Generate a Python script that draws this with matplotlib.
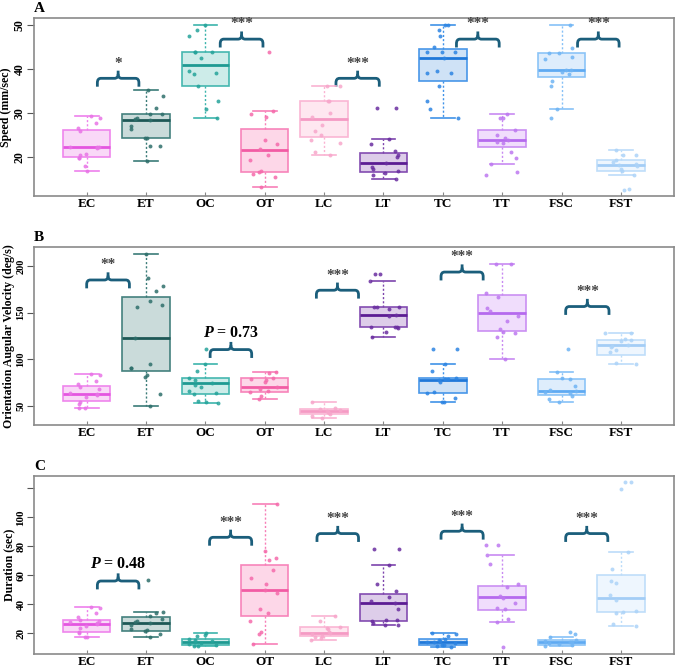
import matplotlib
matplotlib.use("Agg")
import matplotlib.pyplot as plt
from matplotlib.path import Path
from matplotlib.patches import PathPatch
import numpy as np

plt.rcParams["font.family"] = ["Liberation Serif", "DejaVu Serif"]
plt.rcParams["font.weight"] = "bold"
plt.rcParams["mathtext.fontset"] = "custom"
plt.rcParams["mathtext.bfit"] = "Liberation Serif:bold:italic"
plt.rcParams["mathtext.it"] = "Liberation Serif:italic"

groups = ["EC", "ET", "OC", "OT", "LC", "LT", "TC", "TT", "FSC", "FST"]

# ---- Panel A: speed (mm/sec) ----
speed_points = [
    [29.3, 28.9, 27.8, 26.6, 25.9, 22.3, 22.4, 22.2, 22.0, 20.8, 20.4, 19.8, 19.7, 18.1, 16.8],
    [35.3, 34.0, 31.2, 29.7, 29.7, 28.9, 28.7, 28.5, 27.0, 26.3, 24.4, 24.4, 22.6, 22.5, 19.1],
    [50.0, 48.8, 47.5, 43.8, 43.8, 43.8, 42.5, 39.6, 39.2, 38.9, 36.1, 32.7, 31.0, 28.9],
    [43.8, 30.5, 29.7, 29.1, 23.8, 23.1, 21.9, 20.4, 19.3, 16.8, 16.6, 16.1, 15.6, 13.2],
    [36.1, 36.1, 32.7, 32.7, 30.0, 29.1, 27.4, 25.9, 25.1, 24.0, 23.2, 21.1, 20.5],
    [31.2, 31.2, 24.2, 22.9, 21.4, 20.6, 20.0, 18.7, 17.8, 17.4, 16.8, 16.3, 15.9, 15.0],
    [50.0, 50.0, 48.8, 47.5, 45.1, 43.8, 43.8, 43.8, 42.5, 39.6, 39.2, 39.0, 36.1, 32.7, 31.0, 28.9],
    [29.8, 28.9, 28.9, 26.1, 25.1, 24.4, 24.0, 23.4, 23.2, 21.1, 19.7, 18.4, 16.6, 15.9],
    [50.0, 44.7, 43.7, 43.7, 42.8, 42.4, 39.8, 39.7, 39.4, 38.9, 37.4, 36.2, 30.9, 28.9],
    [21.6, 20.6, 20.6, 19.3, 19.0, 18.4, 18.2, 18.0, 17.4, 16.9, 15.9, 12.8, 12.5],
]
speed_q1 = [20.1, 24.4, 36.1, 16.7, 24.6, 16.6, 37.4, 22.3, 38.2, 16.9]
speed_med = [22.3, 28.5, 41.0, 21.7, 28.7, 18.7, 42.5, 24.0, 39.8, 18.2]
speed_q3 = [26.2, 29.7, 43.8, 26.4, 32.7, 21.0, 44.5, 26.1, 43.7, 19.3]
speed_lo = [16.8, 19.1, 28.9, 13.2, 20.5, 15.0, 28.9, 18.4, 30.9, 15.9]
speed_hi = [29.3, 35.3, 50.0, 30.5, 36.1, 24.2, 50.0, 29.8, 50.0, 21.6]

# ---- Panel B: orientation angular velocity (deg/s) ----
angvel_points = [
    [84.5, 83.4, 76.7, 73.1, 70.3, 68.5, 64.2, 62.4, 61.4, 59.6, 54.3, 51.8, 47.9, 47.9],
    [213.2, 187.6, 178.7, 173.3, 162.3, 158.1, 155.6, 122.5, 94.4, 90.5, 90.5, 83.4, 80.6, 62.4, 49.6],
    [111.1, 94.8, 87.0, 79.9, 78.1, 74.5, 72.0, 70.3, 65.6, 64.2, 63.2, 55.0, 53.2, 54.3],
    [86.3, 85.6, 79.9, 79.2, 77.4, 75.6, 70.3, 68.5, 65.6, 65.0, 60.7, 57.8],
    [53.6, 47.2, 46.1, 45.4, 44.3, 43.6, 42.5, 41.1, 39.3, 36.5],
    [191.1, 191.1, 183.6, 156.6, 155.6, 153.8, 156.6, 147.7, 146.6, 134.2, 134.2, 133.5, 134.9, 128.9, 123.6],
    [111.1, 111.1, 94.4, 87.0, 80.2, 79.2, 78.4, 78.1, 75.6, 64.9, 64.2, 58.2, 53.6, 53.6],
    [201.8, 201.8, 170.8, 167.3, 154.5, 152.0, 146.6, 141.3, 132.4, 128.9, 128.2, 123.6, 99.8],
    [111.1, 86.3, 80.2, 79.1, 71.3, 66.7, 65.6, 64.9, 63.9, 60.7, 57.8, 53.6],
    [127.8, 127.8, 121.8, 121.1, 120.0, 115.4, 114.7, 113.6, 110.4, 108.3, 95.9, 94.8],
]
angvel_q1 = [55.3, 87.0, 63.2, 65.0, 41.1, 134.2, 63.9, 130.0, 61.4, 104.7]
angvel_med = [62.4, 122.5, 74.5, 70.3, 44.3, 147.7, 78.1, 149.2, 65.6, 115.4]
angvel_q3 = [71.3, 167.3, 80.2, 79.9, 46.1, 156.3, 79.9, 169.4, 79.1, 120.7]
angvel_lo = [47.9, 49.6, 53.2, 57.8, 36.5, 123.6, 53.6, 99.8, 53.6, 94.8]
angvel_hi = [84.5, 213.2, 94.8, 86.3, 53.6, 183.6, 94.4, 201.8, 86.3, 127.8]

# ---- Panel C: duration (sec) ----
duration_points = [
    [38.1, 37.6, 33.8, 30.8, 28.9, 28.5, 28.0, 27.3, 26.6, 25.0, 23.2, 20.5, 20.0, 17.0, 17.0],
    [56.4, 34.9, 34.2, 31.5, 29.7, 28.5, 27.8, 27.3, 25.5, 22.7, 22.3, 21.6, 19.7, 17.0],
    [20.0, 18.6, 17.7, 15.9, 15.4, 14.7, 13.6, 13.1, 12.4, 12.0, 11.3, 11.3],
    [109.2, 76.6, 71.6, 70.4, 63.6, 58.3, 53.7, 49.6, 47.5, 36.7, 34.2, 28.5, 20.9, 19.3, 12.4],
    [31.9, 28.5, 24.3, 23.2, 22.7, 21.1, 20.0, 19.3, 18.2, 17.0, 16.3, 15.2],
    [77.8, 77.8, 67.0, 53.7, 49.1, 45.2, 42.2, 41.1, 36.5, 28.9, 28.9, 28.5, 27.3, 25.5, 25.5],
    [20.0, 19.3, 17.7, 15.9, 15.2, 14.7, 14.0, 13.6, 12.9, 12.0, 11.7, 11.3, 10.6],
    [81.2, 81.2, 73.9, 67.9, 53.7, 51.9, 45.7, 44.5, 40.6, 37.6, 36.9, 30.0, 27.8, 10.1],
    [20.5, 19.3, 17.0, 15.4, 14.7, 14.0, 13.6, 13.1, 12.4, 12.0, 11.3],
    [124.1, 124.1, 119.7, 76.2, 64.0, 56.0, 54.4, 46.1, 42.7, 35.4, 34.9, 34.2, 26.2, 24.6],
]
duration_q1 = [20.5, 21.6, 12.0, 31.5, 18.2, 28.5, 12.0, 35.8, 12.0, 34.7]
duration_med = [26.6, 27.3, 13.6, 49.6, 20.0, 41.1, 14.0, 45.0, 13.6, 44.5]
duration_q3 = [28.9, 31.2, 15.9, 67.0, 23.9, 47.3, 15.9, 52.6, 15.4, 60.1]
duration_lo = [17.0, 17.0, 11.3, 12.4, 15.2, 25.5, 10.6, 27.8, 11.3, 24.6]
duration_hi = [38.1, 34.9, 20.0, 109.2, 31.9, 67.0, 20.0, 73.9, 17.0, 76.2]

# significance labels for the five control/treatment pairs
speed_sig = ["*", "***", "***", "***", "***"]
angvel_sig = ["**", r"$\mathbfit{P}$ = 0.73", "***", "***", "***"]
duration_sig = [r"$\mathbfit{P}$ = 0.48", "***", "***", "***", "***"]

edge_colors = ["#ee80ec", "#3b7b78", "#3cb4ac", "#f77fb7", "#fab3d2",
               "#7d44ad", "#3f92e8", "#c88af2", "#86c1f7", "#bcdcf9"]
fill_colors = ["#f9d6f7", "#c7d9d8", "#cbebe8", "#fdd5e7", "#fee6f0",
               "#dccbe8", "#cde1f6", "#f0dcfc", "#ddedfc", "#eef6fe"]
median_colors = ["#e455e0", "#1e5856", "#1f9a92", "#f25ca4", "#f59ac4",
                 "#5b1c93", "#1f78d9", "#b56aee", "#5faaf2", "#a3cdf6"]
point_colors = ["#e873e6", "#2e6f6b", "#25a39a", "#f56aab", "#f7a7cb",
                "#6a2ea0", "#2c84e2", "#bd78f0", "#6fb4f4", "#acd3f8"]
bracket_color = "#1b5e7b"


def draw_bracket(ax, x0, x1, y, label, yrange):
    down = 0.047 * yrange
    up = 0.043 * yrange
    rx = 0.06
    ry = 0.025 * yrange
    xm = (x0 + x1) / 2
    verts = [(x0, y - down), (x0, y - ry), (x0, y), (x0 + rx, y),
             (xm - rx, y), (xm, y), (xm, y + ry), (xm, y + up)]
    codes = [Path.MOVETO, Path.LINETO, Path.CURVE3, Path.CURVE3,
             Path.LINETO, Path.CURVE3, Path.CURVE3, Path.LINETO]
    ax.add_patch(PathPatch(Path(verts, codes), fill=False,
                           edgecolor=bracket_color, lw=2, capstyle="butt"))
    verts = [(x1, y - down), (x1, y - ry), (x1, y), (x1 - rx, y),
             (xm + rx, y), (xm, y), (xm, y + ry)]
    codes = [Path.MOVETO, Path.LINETO, Path.CURVE3, Path.CURVE3,
             Path.LINETO, Path.CURVE3, Path.CURVE3]
    ax.add_patch(PathPatch(Path(verts, codes), fill=False,
                           edgecolor=bracket_color, lw=2, capstyle="butt"))
    if label.startswith("*"):
        ax.text(xm, y + 0.085 * yrange, label, ha="center", va="center",
                fontsize=11, color="#444444", fontweight="bold")
    else:
        ax.text(xm, y + 0.095 * yrange, label, ha="center", va="center",
                fontsize=11.5, color="black", fontweight="bold")


def panel(ax, points, q1, med, q3, lo, hi, sig, brackets, ylim, yticks,
          yticklabels, ylabel, letter, tick_size):
    stats = []
    for i in range(len(groups)):
        stats.append({"med": med[i], "q1": q1[i], "q3": q3[i],
                      "whislo": lo[i], "whishi": hi[i], "fliers": []})
    bp = ax.bxp(stats, positions=range(1, 11), widths=0.8, patch_artist=True,
                showfliers=False, whiskerprops={"ls": (0, (1.5, 1.5)), "lw": 1},
                capprops={"lw": 1.2}, medianprops={"lw": 2},
                boxprops={"lw": 1.2}, capwidths=0.4)
    for i in range(len(groups)):
        bp["boxes"][i].set_facecolor(fill_colors[i])
        bp["boxes"][i].set_edgecolor(edge_colors[i])
        bp["boxes"][i].set_alpha(0.95)
        bp["medians"][i].set_color(median_colors[i])
        for k in (2 * i, 2 * i + 1):
            bp["whiskers"][k].set_color(edge_colors[i])
            bp["caps"][k].set_color(edge_colors[i])
    rng = np.random.default_rng(7)
    for i, vals in enumerate(points):
        xs = i + 1 + rng.uniform(-0.28, 0.28, len(vals))
        ax.scatter(xs, vals, s=8, color=point_colors[i], alpha=0.85,
                   linewidths=0, zorder=3)
    yrange = ylim[1] - ylim[0]
    for (x0, x1, y), lab in zip(brackets, sig):
        draw_bracket(ax, x0, x1, y, lab, yrange)
    ax.set_xlim(0.11, 10.9)
    ax.set_ylim(*ylim)
    ax.set_xticks(range(1, 11))
    ax.set_xticklabels(groups, fontsize=9.5, fontweight="bold")
    ax.set_yticks(yticks)
    ax.set_yticklabels(yticklabels, rotation=90, va="center",
                       fontsize=tick_size, fontweight="bold")
    ax.tick_params(axis="x", direction="in", length=3, pad=1.5, color="#888888")
    ax.tick_params(axis="y", direction="out", length=5, pad=1, color="#555555")
    ax.set_ylabel(ylabel, fontsize=8.6, fontweight="bold", labelpad=1)
    for s in ax.spines.values():
        s.set_color("#8a8a8a")
        s.set_linewidth(1.2)
    ax.text(0.0, 1.034, letter, transform=ax.transAxes, ha="left",
            va="baseline", fontsize=11, fontweight="bold")


fig = plt.figure(figsize=(6.77, 6.71), dpi=100)
axA = fig.add_axes([0.0500, 0.7080, 0.9460, 0.2652])
axB = fig.add_axes([0.0500, 0.3660, 0.9460, 0.2652])
axC = fig.add_axes([0.0500, 0.0250, 0.9460, 0.2652])

panel(axA, speed_points, speed_q1, speed_med, speed_q3, speed_lo, speed_hi,
      speed_sig,
      [(1.18, 1.88, 37.9), (3.25, 3.97, 46.8), (5.20, 5.93, 37.9),
       (7.23, 7.95, 46.8), (9.27, 9.97, 46.8)],
      (11.2, 51.6), [20, 30, 40, 50], ["20", "30", "40", "50"],
      "Speed (mm/sec)", "A", 8.5)
panel(axB, angvel_points, angvel_q1, angvel_med, angvel_q3, angvel_lo,
      angvel_hi, angvel_sig,
      [(1.00, 1.72, 185.1), (3.08, 3.78, 110.4), (4.87, 5.58, 174.1),
       (6.97, 7.68, 193.6), (9.07, 9.80, 156.6)],
      (29, 220), [50, 100, 150, 200], ["50", "100", "150", "200"],
      "Orientation Augular Velocity (deg/s)", "B", 7.5)
panel(axC, duration_points, duration_q1, duration_med, duration_q3,
      duration_lo, duration_hi, duration_sig,
      [(1.18, 1.88, 56.0), (3.07, 3.78, 86.2), (4.88, 5.58, 88.8),
       (6.97, 7.68, 90.4), (9.07, 9.78, 88.8)],
      (5.4, 128.4), [20, 40, 60, 80, 100, 120],
      ["20", "40", "60", "80", "100", ""],
      "Duration (sec)", "C", 8)

fig.savefig("out.png", dpi=100)
